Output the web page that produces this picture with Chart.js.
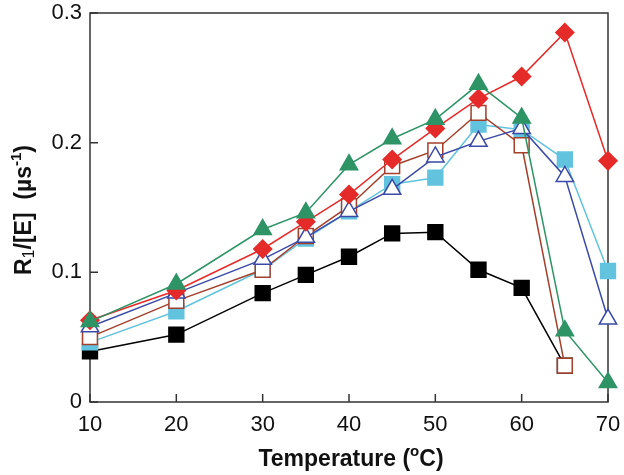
<!DOCTYPE html>
<html>
<head>
<meta charset="utf-8">
<script src="https://cdn.jsdelivr.net/npm/chart.js@4.4.0/dist/chart.umd.min.js"></script>
<style>
  html, body { margin: 0; padding: 0; background: #fff; }
  #wrap { width: 624px; height: 475px; }
</style>
</head>
<body>
<div id="wrap"><canvas id="tempChart"></canvas></div>
<script>
// data
let temps = [10, 20, 30, 35, 40, 45, 50, 55, 60, 65, 70];
let blackSq   = [0.039, 0.052, 0.084, 0.098, 0.112, 0.130, 0.131, 0.102, 0.088, 0.028, null];
let redDia    = [0.063, 0.086, 0.118, 0.139, 0.160, 0.187, 0.211, 0.234, 0.251, 0.285, 0.186];
let greenTri  = [0.062, 0.091, 0.133, 0.146, 0.183, 0.203, 0.218, 0.245, 0.219, 0.055, 0.015];
let brownOpen = [0.050, 0.078, 0.102, 0.128, 0.151, 0.182, 0.194, 0.223, 0.198, 0.028, null];
let blueOpen  = [0.058, 0.084, 0.110, 0.127, 0.147, 0.164, 0.189, 0.201, 0.211, 0.174, 0.064];
let cyanSq    = [0.046, 0.070, 0.102, 0.126, 0.147, 0.168, 0.173, 0.214, 0.210, 0.187, 0.101];
let yTicks = [0, 0.1, 0.2, 0.3];

function pts(arr) {
  return temps.map((t, i) => ({x: t, y: arr[i]})).filter(p => p.y !== null);
}

function series(arr, color, style, radius, fill, order) {
  return {
    data: pts(arr),
    borderColor: color,
    borderWidth: 1.5,
    pointStyle: style,
    pointRadius: radius,
    pointHoverRadius: radius,
    pointBackgroundColor: fill,
    pointBorderColor: color,
    pointBorderWidth: 1.5,
    order: order,
    clip: false,
    tension: 0
  };
}

const FONT = '"Liberation Sans", Arial, sans-serif';

// rich text helper: parts = [[text, font, dy]]
function richText(ctx, parts, cx, cy) {
  let total = 0;
  parts.forEach(p => { ctx.font = p[1]; total += ctx.measureText(p[0]).width; });
  let x = cx - total / 2;
  ctx.textBaseline = 'alphabetic';
  ctx.textAlign = 'left';
  parts.forEach(p => {
    ctx.font = p[1];
    ctx.fillText(p[0], x, cy + p[2]);
    x += ctx.measureText(p[0]).width;
  });
}

const framePlugin = {
  id: 'frame',
  beforeDatasetsDraw(chart) {
    const ctx = chart.ctx, a = chart.chartArea;
    const xs = chart.scales.x, ys = chart.scales.y;
    ctx.save();
    ctx.strokeStyle = '#333';
    ctx.lineWidth = 1.5;
    ctx.strokeRect(a.left, a.top, a.right - a.left, a.bottom - a.top);
    ctx.beginPath();
    // inward ticks
    temps.filter(t => t % 10 === 0).forEach(t => {
      const px = xs.getPixelForValue(t);
      ctx.moveTo(px, a.bottom);
      ctx.lineTo(px, a.bottom - 8);
    });
    yTicks.forEach(v => {
      const py = ys.getPixelForValue(v);
      ctx.moveTo(a.left, py);
      ctx.lineTo(a.left + 8, py);
    });
    ctx.stroke();
    ctx.restore();
  },
  afterDraw(chart) {
    const ctx = chart.ctx;
    ctx.save();
    ctx.fillStyle = '#111';
    const bold = 'bold 23px ' + FONT;
    const small = 'bold 15px ' + FONT;
    richText(ctx, [['Temperature (', bold, 0], ['o', small, -10], ['C)', bold, 0]], 351, 466);
    ctx.translate(31, 210);
    ctx.rotate(-Math.PI / 2);
    richText(ctx, [['R', bold, 0], ['1', '16px ' + FONT, 3], ['/[E]  (\u00b5s', bold, 0], ['-1', small, -10], [')', bold, 0]], 0, 0);
    ctx.restore();
  }
};

let chart = document.getElementById('tempChart').getContext('2d');
let chartVar = new Chart(chart, {
  type: 'line',
  data: {
    datasets: [
      series(greenTri,  '#2e9466', 'triangle', 10,  '#2e9466', 1),
      series(redDia,    '#e52b2a', 'rectRot',  9,   '#e52b2a', 2),
      series(blueOpen,  '#3a4aa6', 'triangle', 10,  '#ffffff', 3),
      series(brownOpen, '#a3402c', 'rect',     10.5,'#ffffff', 4),
      series(cyanSq,    '#62c3de', 'rect',     10.5,'#62c3de', 5),
      series(blackSq,   '#000000', 'rect',     10.5,'#000000', 6)
    ]
  },
  options: {
    responsive: true,
    maintainAspectRatio: false,
    animation: false,
    layout: { padding: { top: 13, right: 16, left: 0, bottom: 0 } },
    plugins: { legend: { display: false }, tooltip: { enabled: false } },
    scales: {
      x: {
        type: 'linear',
        min: 10, max: 70,
        grid: { display: false, drawTicks: false },
        border: { display: false },
        ticks: { stepSize: 10, padding: 10, color: '#111', font: { family: FONT, size: 22 }, maxRotation: 0 },
        afterFit(s) { s.height = 73; s.paddingLeft = 0; s.paddingRight = 0; }
      },
      y: {
        min: 0, max: 0.3,
        grid: { display: false, drawTicks: false },
        border: { display: false },
        ticks: {
          stepSize: 0.1, padding: 8, color: '#111', font: { family: FONT, size: 22 },
          callback: v => (Math.round(v * 10) / 10 === 0 ? '0' : (Math.round(v * 10) / 10).toString())
        },
        afterFit(s) { s.width = 90; s.paddingTop = 0; s.paddingBottom = 0; }
      }
    }
  },
  plugins: [framePlugin]
});
</script>
</body>
</html>
